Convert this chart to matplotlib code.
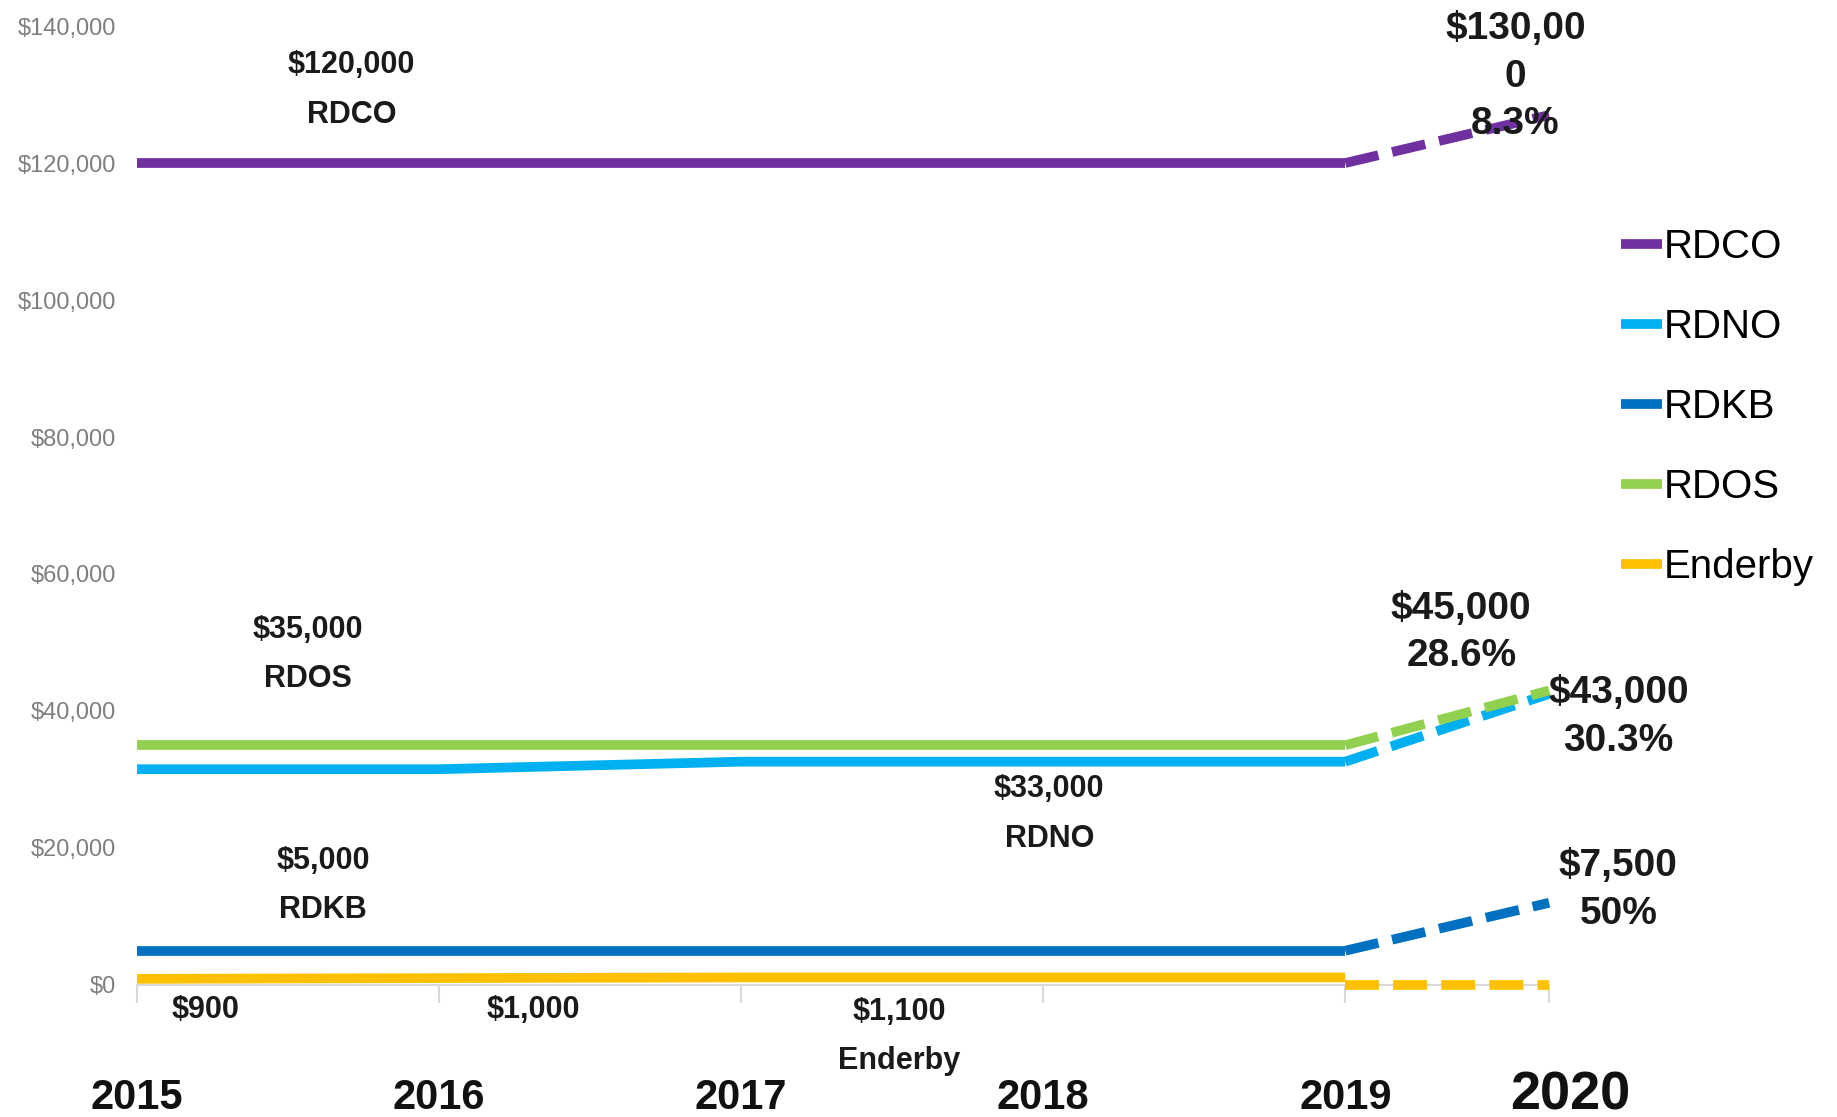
import numpy as np
import matplotlib.pyplot as plt
from matplotlib import transforms
from matplotlib.ticker import FuncFormatter

font = ['Liberation Sans', 'DejaVu Sans']

years = ['2015', '2016', '2017', '2018', '2019', '2020']
# the 2020 column sits closer to 2019 on the original chart
year_x = [0, 1, 2, 3, 4, 4.675]

names = ['RDCO', 'RDNO', 'RDKB', 'RDOS', 'Enderby']
colors = ['#7030A0', '#00B0F0', '#0070C0', '#92D050', '#FFC000']

# 2015-2019 values (solid lines)
rdco = [120000, 120000, 120000, 120000, 120000]
rdno = [31500, 31500, 32600, 32600, 32600]
rdkb = [5000, 5000, 5000, 5000, 5000]
rdos = [35000, 35000, 35000, 35000, 35000]
enderby = [900, 1000, 1100, 1100, 1100]

# 2019 -> 2020 projections as drawn (dashed lines)
rdco_proj = [120000, 127000]
rdno_proj = [32600, 42500]
rdkb_proj = [5000, 12000]
rdos_proj = [35000, 43000]
enderby_proj = [0, 0]

# text labels on the chart
line_labels = ['$120,000\nRDCO', '$35,000\nRDOS', '$33,000\nRDNO',
               '$5,000\nRDKB', '$900', '$1,000', '$1,100\nEnderby']
proj_labels = ['$130,00\n0\n8.3%', '$45,000\n28.6%', '$43,000\n30.3%',
               '$7,500\n50%']

solid = [rdco, rdno, rdkb, rdos, enderby]
dashed = [rdco_proj, rdno_proj, rdkb_proj, rdos_proj, enderby_proj]

plt.rcParams['font.family'] = font

fig = plt.figure(figsize=(18.37, 11.17), dpi=100)
ax = fig.add_axes([0.0746, 0.1182, 0.7687, 0.8585])

for name, c, s, d in zip(names, colors, solid, dashed):
    ax.plot(year_x[:5], s, color=c, lw=7, solid_capstyle='butt',
            label=name, clip_on=False, zorder=3)
    ax.plot(year_x[4:], d, color=c, lw=7, dashes=(3.5, 1.45),
            dash_capstyle='butt', clip_on=False, zorder=3)

ax.set_xlim(year_x[0], year_x[-1])
ax.set_ylim(0, 140000)
ax.set_yticks(np.arange(0, 140001, 20000))
ax.yaxis.set_major_formatter(FuncFormatter(lambda v, p: '${:,.0f}'.format(v)))
ax.set_xticks(year_x)
ax.set_xticklabels(years)

for sp in ['top', 'right', 'left']:
    ax.spines[sp].set_visible(False)
ax.spines['bottom'].set_color('#D9D9D9')
ax.spines['bottom'].set_linewidth(1.5)

ax.tick_params(axis='x', length=13, width=1.5, color='#D9D9D9', pad=54,
               labelsize=30, labelcolor='#111111')
ax.tick_params(axis='y', length=0, pad=15, labelsize=17, labelcolor='#7f7f7f')
for lab in ax.get_xticklabels():
    lab.set_fontweight('bold')
last = ax.get_xticklabels()[-1]
last.set_fontsize(39)
last.set_transform(last.get_transform() +
                   transforms.ScaledTranslation(0.21, 0.08, fig.dpi_scale_trans))

# label positions in data units
line_pos = [(0.71, 130700), (0.566, 48250), (3.02, 25000), (0.616, 14500),
            (0.225, -3650), (1.311, -3650), (2.523, -7500)]
proj_pos = [(4.563, 132600), (4.384, 51450), (4.904, 39100), (4.904, 13850)]

for txt, (x, y) in zip(line_labels, line_pos):
    ax.text(x, y, txt, ha='center', va='center', fontsize=22,
            fontweight='bold', linespacing=1.85, color='#1a1a1a',
            clip_on=False)
for txt, (x, y) in zip(proj_labels, proj_pos):
    ax.text(x, y, txt, ha='center', va='center', fontsize=28,
            fontweight='bold', linespacing=1.42, color='#1a1a1a',
            clip_on=False)

ax.legend(loc='upper left', bbox_to_anchor=(0.8824, 0.7955),
          bbox_transform=fig.transFigure, frameon=False,
          prop={'size': 29}, handlelength=1.02,
          handletextpad=0.05, labelspacing=1.04, borderpad=0,
          borderaxespad=0)

fig.savefig('out.png', dpi=100)
